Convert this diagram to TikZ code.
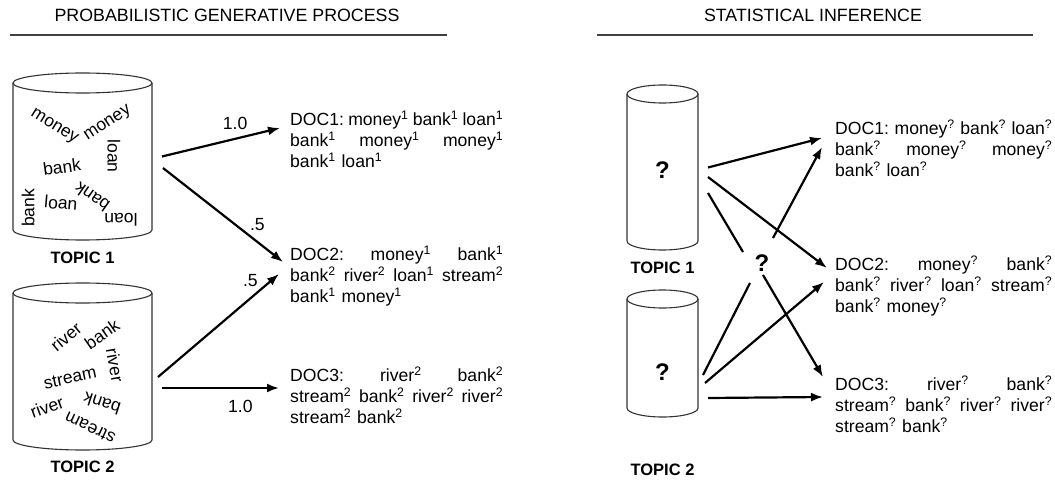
\documentclass[tikz,border=0pt]{standalone}
\usepackage{fontspec}
\setmainfont{Liberation Sans}
\usetikzlibrary{arrows.meta,positioning}

\newcommand\tsup[1]{\textsuperscript{#1}}
% a line spread to the full width of the document box
\newcommand\jline[1]{\makebox[\linewidth][s]{\spaceskip=0pt\xspaceskip=0pt\relax #1}}
% outline of a topic jar round a named node: name, x radius, y radius
\newcommand\drawcyl[3]{%
  \draw[cyl] ([yshift=-#3]#1.north west) -- ([yshift=#3]#1.south west)
    arc[start angle=180, end angle=360, x radius=#2, y radius=#3]
    -- ([yshift=-#3]#1.north east);
  \draw[cyl] ([yshift=-#3]#1.north) ellipse [x radius=#2, y radius=#3];}

\tikzset{
  topic/.style={inner sep=0pt, outer sep=0pt},
  cyl/.style={line width=1.1pt, draw=black!80},
  word/.style={inner sep=0pt, font=\fontsize{17.5}{20}\selectfont},
  head/.style={inner sep=0pt, font=\fontsize{17.8}{21}\selectfont},
  rule/.style={line width=1.4pt, black!75},
  topiclbl/.style={inner sep=0pt, font=\fontsize{16.5}{20}\selectfont\bfseries},
  unknown/.style={inner sep=0pt, font=\fontsize{24}{28}\selectfont\bfseries},
  doc/.style={anchor=north west, inner sep=0pt, text width=#1, align=left,
    font=\fontsize{17.6}{21}\selectfont\frenchspacing},
  lbl/.style={inner sep=2pt, font=\fontsize{17.6}{21}\selectfont},
  flow/.style={line width=2.2pt, -{Latex[length=12pt,width=9pt]}},
  link/.style={line width=2.2pt},
}

\begin{document}
\begin{tikzpicture}[x=1pt, y=-1pt]
  \useasboundingbox (0,0) rectangle (1055,489);

  % Headings
  \node[head] (h1) at (227,15) {PROBABILISTIC GENERATIVE PROCESS};
  \node[head] (h2) at (813,15) {STATISTICAL INFERENCE};
  \draw[rule] (10,35) -- (447,35);
  \draw[rule] (597,35) -- (1033,35);

  % Generative side: topics
  \node[topic, minimum width=139pt, minimum height=167pt] (t1) at (82.5,156.5) {};
  \node[topic, minimum width=139pt, minimum height=167pt] (t2) at (82.5,366.5) {};
  \drawcyl{t1}{69.5pt}{10pt}
  \drawcyl{t2}{69.5pt}{10pt}
  \node[topiclbl, below=12pt of t1] (t1lbl) {TOPIC 1};
  \node[topiclbl, below=11pt of t2] (t2lbl) {TOPIC 2};

  \node[word, rotate=-32] (w1) at (54,127) {money};
  \node[word, rotate=33] (w2) at (108,124) {money};
  \node[word, rotate=-90] (w3) at (114,156) {loan};
  \node[word, rotate=8] (w4) at (62,167) {bank};
  \node[word, rotate=90] (w5) at (28,208) {bank};
  \node[word, rotate=-5] (w6) at (61,203) {loan};
  \node[word, rotate=145] (w7) at (92,197) {bank};
  \node[word, rotate=180] (w8) at (121,220) {loan};

  \node[word, rotate=40] (v1) at (66,337) {river};
  \node[word, rotate=35] (v2) at (102,334) {bank};
  \node[word, rotate=-80] (v3) at (115,365) {river};
  \node[word, rotate=12] (v4) at (70,378) {stream};
  \node[word, rotate=20] (v5) at (47,407) {river};
  \node[word, rotate=162] (v6) at (102,404) {bank};
  \node[word, rotate=155] (v7) at (90,428) {stream};

  % Generative side: documents
  \node[doc=213pt] (d1) at (290,110.5) {%
    \jline{DOC1: money\tsup{1} bank\tsup{1} loan\tsup{1}}\\
    \jline{bank\tsup{1} money\tsup{1} money\tsup{1}}\\
    bank\tsup{1} loan\tsup{1}};
  \node[doc=213pt] (d2) at (290,245.5) {%
    \jline{DOC2: money\tsup{1} bank\tsup{1}}\\
    \jline{bank\tsup{2} river\tsup{2} loan\tsup{1} stream\tsup{2}}\\
    bank\tsup{1} money\tsup{1}};
  \node[doc=213pt] (d3) at (290,366.5) {%
    \jline{DOC3: river\tsup{2} bank\tsup{2}}\\
    \jline{stream\tsup{2} bank\tsup{2} river\tsup{2} river\tsup{2}}\\
    stream\tsup{2} bank\tsup{2}};

  \draw[flow] ([xshift=10pt]t1.east)
    -- node[lbl, pos=.62, above=5.75pt] {1.0} ([xshift=-10pt,yshift=-17.5pt]d1.north west);
  \draw[flow] ([xshift=11pt,yshift=-11.5pt]t1.east)
    -- node[lbl, pos=.7, above right] {.5} ([xshift=-7pt,yshift=-16.5pt]d2.north west);
  \draw[flow] ([xshift=6pt,yshift=-10.5pt]t2.east)
    -- node[lbl, pos=.85, above left] {.5} ([xshift=-11pt,yshift=-28.5pt]d2.north west);
  \draw[flow] ([xshift=10pt,yshift=-21.5pt]t2.east)
    -- node[lbl, pos=.67, below=9pt] {1.0} ([xshift=-11pt,yshift=-21.5pt]d3.north west);

  % Inference side: topics
  \node[topic, minimum width=71pt, minimum height=165pt] (t3) at (662.5,167.5) {};
  \node[topic, minimum width=71pt, minimum height=127pt] (t4) at (662.5,353.5) {};
  \drawcyl{t3}{35.5pt}{9pt}
  \drawcyl{t4}{35.5pt}{9pt}
  \node[topiclbl, below=12pt of t3] (t3lbl) {TOPIC 1};
  \node[topiclbl, below=47pt of t4] (t4lbl) {TOPIC 2};
  \node[unknown] (q3) at (662.5,170) {?};
  \node[unknown] (q4) at (662.5,372) {?};
  \node[unknown] (q) at (762,263) {?};

  % Inference side: documents
  \node[doc=217pt] (rd1) at (835,119.5) {%
    \jline{DOC1: money\tsup{?} bank\tsup{?} loan\tsup{?}}\\
    \jline{bank\tsup{?} money\tsup{?} money\tsup{?}}\\
    bank\tsup{?} loan\tsup{?}};
  \node[doc=217pt] (rd2) at (835,255.5) {%
    \jline{DOC2: money\tsup{?} bank\tsup{?}}\\
    \jline{bank\tsup{?} river\tsup{?} loan\tsup{?} stream\tsup{?}}\\
    bank\tsup{?} money\tsup{?}};
  \node[doc=217pt] (rd3) at (835,375.5) {%
    \jline{DOC3: river\tsup{?} bank\tsup{?}}\\
    \jline{stream\tsup{?} bank\tsup{?} river\tsup{?} river\tsup{?}}\\
    stream\tsup{?} bank\tsup{?}};

  \draw[flow] ([xshift=10pt]t3.east) -- ([xshift=-13pt,yshift=-18.5pt]rd1.north west);
  \draw[flow] ([xshift=10pt,yshift=-9.5pt]t3.east) -- ([xshift=-8pt,yshift=-12.5pt]rd2.north west);
  \draw[link] ([xshift=10pt,yshift=-25.5pt]t3.east) -- ([xshift=-19pt,yshift=11pt]q.center);
  \draw[flow] ([xshift=11pt,yshift=25pt]q.center) -- ([xshift=-13pt,yshift=-27.5pt]rd1.north west);
  \draw[flow] ([xshift=1pt,yshift=-12pt]q.center) -- ([xshift=-12pt,yshift=-1.5pt]rd3.north west);
  \draw[link] ([xshift=5pt,yshift=-21.5pt]t4.east) -- ([xshift=-12pt,yshift=-20pt]q.center);
  \draw[flow] ([xshift=7pt,yshift=-29.5pt]t4.east) -- ([xshift=-11pt,yshift=-26.5pt]rd2.north west);
  \draw[flow] ([xshift=10pt,yshift=-44.5pt]t4.east) -- ([xshift=-12pt,yshift=-21.5pt]rd3.north west);
\end{tikzpicture}
\end{document}
